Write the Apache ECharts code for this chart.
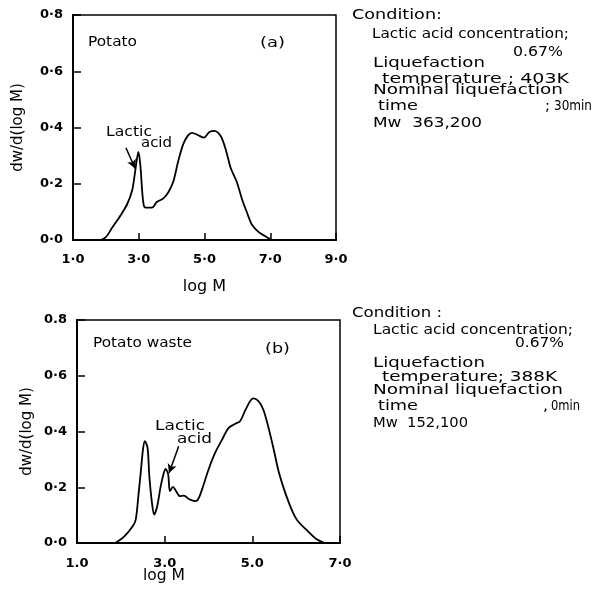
<!DOCTYPE html>
<html><head><meta charset="utf-8">
<script src="https://cdn.jsdelivr.net/npm/echarts@6/dist/echarts.min.js"></script>
<style>html,body{margin:0;padding:0;background:#fff}#c{width:602px;height:589px}</style>
</head><body><div id="c"></div>
<script>
// Molecular weight distribution curves: log M vs dw/d(log M)
const potatoCurve = [
  [1.85,0],[2.0,0.01],[2.2,0.045],[2.45,0.088],[2.65,0.128],[2.8,0.177],[2.88,0.235],
  [2.94,0.285],[2.99,0.313],[3.05,0.265],[3.1,0.18],[3.15,0.125],[3.21,0.115],[3.4,0.115],
  [3.55,0.135],[3.75,0.148],[3.9,0.17],[4.05,0.207],[4.2,0.28],[4.35,0.34],[4.5,0.372],
  [4.62,0.381],[4.8,0.373],[4.98,0.364],[5.15,0.384],[5.3,0.388],[5.5,0.368],[5.65,0.32],
  [5.8,0.255],[5.98,0.207],[6.15,0.142],[6.3,0.095],[6.45,0.053],[6.65,0.028],[6.85,0.013],[7.0,0.003]
];
const wasteCurve = [
  [1.875,0],[2.08,0.024],[2.27,0.06],[2.34,0.084],[2.4,0.168],[2.46,0.263],[2.51,0.341],
  [2.55,0.365],[2.61,0.341],[2.65,0.24],[2.71,0.144],[2.76,0.102],[2.83,0.132],[2.91,0.204],
  [2.98,0.251],[3.02,0.266],[3.08,0.246],[3.12,0.186],[3.19,0.201],[3.26,0.186],[3.35,0.168],
  [3.44,0.17],[3.55,0.158],[3.7,0.15],[3.78,0.162],[3.89,0.21],[4.0,0.263],[4.15,0.323],
  [4.31,0.371],[4.46,0.413],[4.61,0.428],[4.72,0.437],[4.83,0.473],[4.95,0.509],[5.02,0.519],
  [5.14,0.509],[5.25,0.479],[5.36,0.419],[5.48,0.341],[5.59,0.263],[5.7,0.204],[5.82,0.15],
  [5.93,0.108],[6.04,0.078],[6.27,0.042],[6.45,0.015],[6.62,0.002]
];
const xTicksA = ['1·0','3·0','5·0','7·0','9·0'];
const xTicksB = ['1.0','3.0','5.0','7·0'];
const yTicksA = ['0·0','0·2','0·4','0·6','0·8'];
const yTicksB = ['0·0','0·2','0·4','0·6','0.8'];
// lactic acid arrows: [from, to] in data coordinates
const arrowA = [[2.61,0.328],[2.89,0.254]];
const arrowB = [[3.32,0.347],[3.10,0.251]];

const FONT = 'DejaVu Sans';
const chart = echarts.init(document.getElementById('c'), null, {renderer:'canvas'});

function xAxisDef(gi, max, ticks, margin){
  return {
    type:'value', gridIndex:gi, min:1, max:max, interval:2,
    axisLine:{show:true, lineStyle:{color:'#000', width:2}},
    axisTick:{show:true, inside:true, length:7, lineStyle:{color:'#000', width:1.5}},
    splitLine:{show:false},
    axisLabel:{color:'#000', fontFamily:FONT, fontSize:13, fontWeight:'bold', margin:margin,
      formatter:v => ticks[Math.round((v-1)/2)]}
  };
}
function yAxisDef(gi, ticks, gap){
  return {
    type:'value', gridIndex:gi, min:0, max:0.8, interval:0.2,
    name:'dw/d(log M)', nameLocation:'middle', nameGap:gap, nameRotate:90,
    nameTextStyle:{color:'#000', fontFamily:FONT, fontSize:15},
    axisLine:{show:true, lineStyle:{color:'#000', width:2}},
    axisTick:{show:true, inside:true, length:8, lineStyle:{color:'#000', width:1.5}},
    splitLine:{show:false},
    axisLabel:{color:'#000', fontFamily:FONT, fontSize:13, fontWeight:'bold', margin:10,
      formatter:v => ticks[Math.round(v/0.2)]}
  };
}
function arrowLine(pts){
  return {
    silent:true, symbol:['none','arrow'], symbolSize:[7,9],
    lineStyle:{color:'#000', width:1.5, type:'solid'}, label:{show:false},
    data:[[{coord:pts[0]},{coord:pts[1]}]]
  };
}

// text stretched horizontally to a given width (the lettering is wide-set)
const measureCtx = document.createElement('canvas').getContext('2d');
function fitText(x, y, s, width, size){
  const font = (size || 14) + 'px "' + FONT + '"';
  measureCtx.font = font;
  const w = measureCtx.measureText(s).width;
  return {type:'text', x:x, y:y, scaleX:width / w,
    style:{text:s, fill:'#000', font:font, textVerticalAlign:'top', verticalAlign:'top'}};
}

chart.setOption({
  animation:false,
  backgroundColor:'#fff',
  grid:[
    {left:73, top:15, width:263, height:225, show:true, borderColor:'#000', borderWidth:1.5},
    {left:77, top:320, width:263, height:223, show:true, borderColor:'#000', borderWidth:1.5}
  ],
  xAxis:[
    Object.assign(xAxisDef(0, 9, xTicksA, 13), {name:'log M', nameLocation:'middle', nameGap:39,
      nameTextStyle:{color:'#000', fontFamily:FONT, fontSize:16}}),
    xAxisDef(1, 7, xTicksB, 14)
  ],
  yAxis:[yAxisDef(0, yTicksA, 47), yAxisDef(1, yTicksB, 42)],
  series:[
    {type:'line', xAxisIndex:0, yAxisIndex:0, data:potatoCurve, showSymbol:false, smooth:0.3,
      lineStyle:{color:'#000', width:1.8}, markLine:arrowLine(arrowA)},
    {type:'line', xAxisIndex:1, yAxisIndex:1, data:wasteCurve, showSymbol:false, smooth:0.3,
      lineStyle:{color:'#000', width:1.8}, markLine:arrowLine(arrowB)}
  ],
  graphic:[
    fitText(88, 35, 'Potato', 49),
    fitText(260, 36, '(a)', 25),
    fitText(106, 125, 'Lactic', 46),
    fitText(141, 136, 'acid', 31),
    fitText(93, 336, 'Potato waste', 99),
    fitText(265, 342, '(b)', 25),
    fitText(155, 419, 'Lactic', 50),
    fitText(177, 432, 'acid', 35),
    fitText(143, 569, 'log M', 42, 15),
    // conditions, panel (a)
    fitText(352, 8, 'Condition:', 90),
    fitText(372, 27, 'Lactic acid concentration;', 197),
    fitText(513, 45, '0.67%', 50),
    fitText(373, 56, 'Liquefaction', 112),
    fitText(382, 72, 'temperature ; 403K', 187),
    fitText(373, 83, 'Nominal liquefaction', 190),
    fitText(378, 99, 'time', 40),
    fitText(545, 99, ';', 5),
    fitText(554, 99, '30min', 38),
    fitText(373, 116, 'Mw  363,200', 109),
    // conditions, panel (b)
    fitText(352, 306, 'Condition :', 90),
    fitText(373, 323, 'Lactic acid concentration;', 200),
    fitText(515, 336, '0.67%', 49),
    fitText(373, 356, 'Liquefaction', 112),
    fitText(382, 370, 'temperature; 388K', 175),
    fitText(373, 383, 'Nominal liquefaction', 190),
    fitText(378, 399, 'time', 40),
    fitText(543, 399, ',', 5),
    fitText(551, 399, '0min', 29),
    fitText(373, 416, 'Mw  152,100', 95)
  ]
});
</script>
</body></html>
